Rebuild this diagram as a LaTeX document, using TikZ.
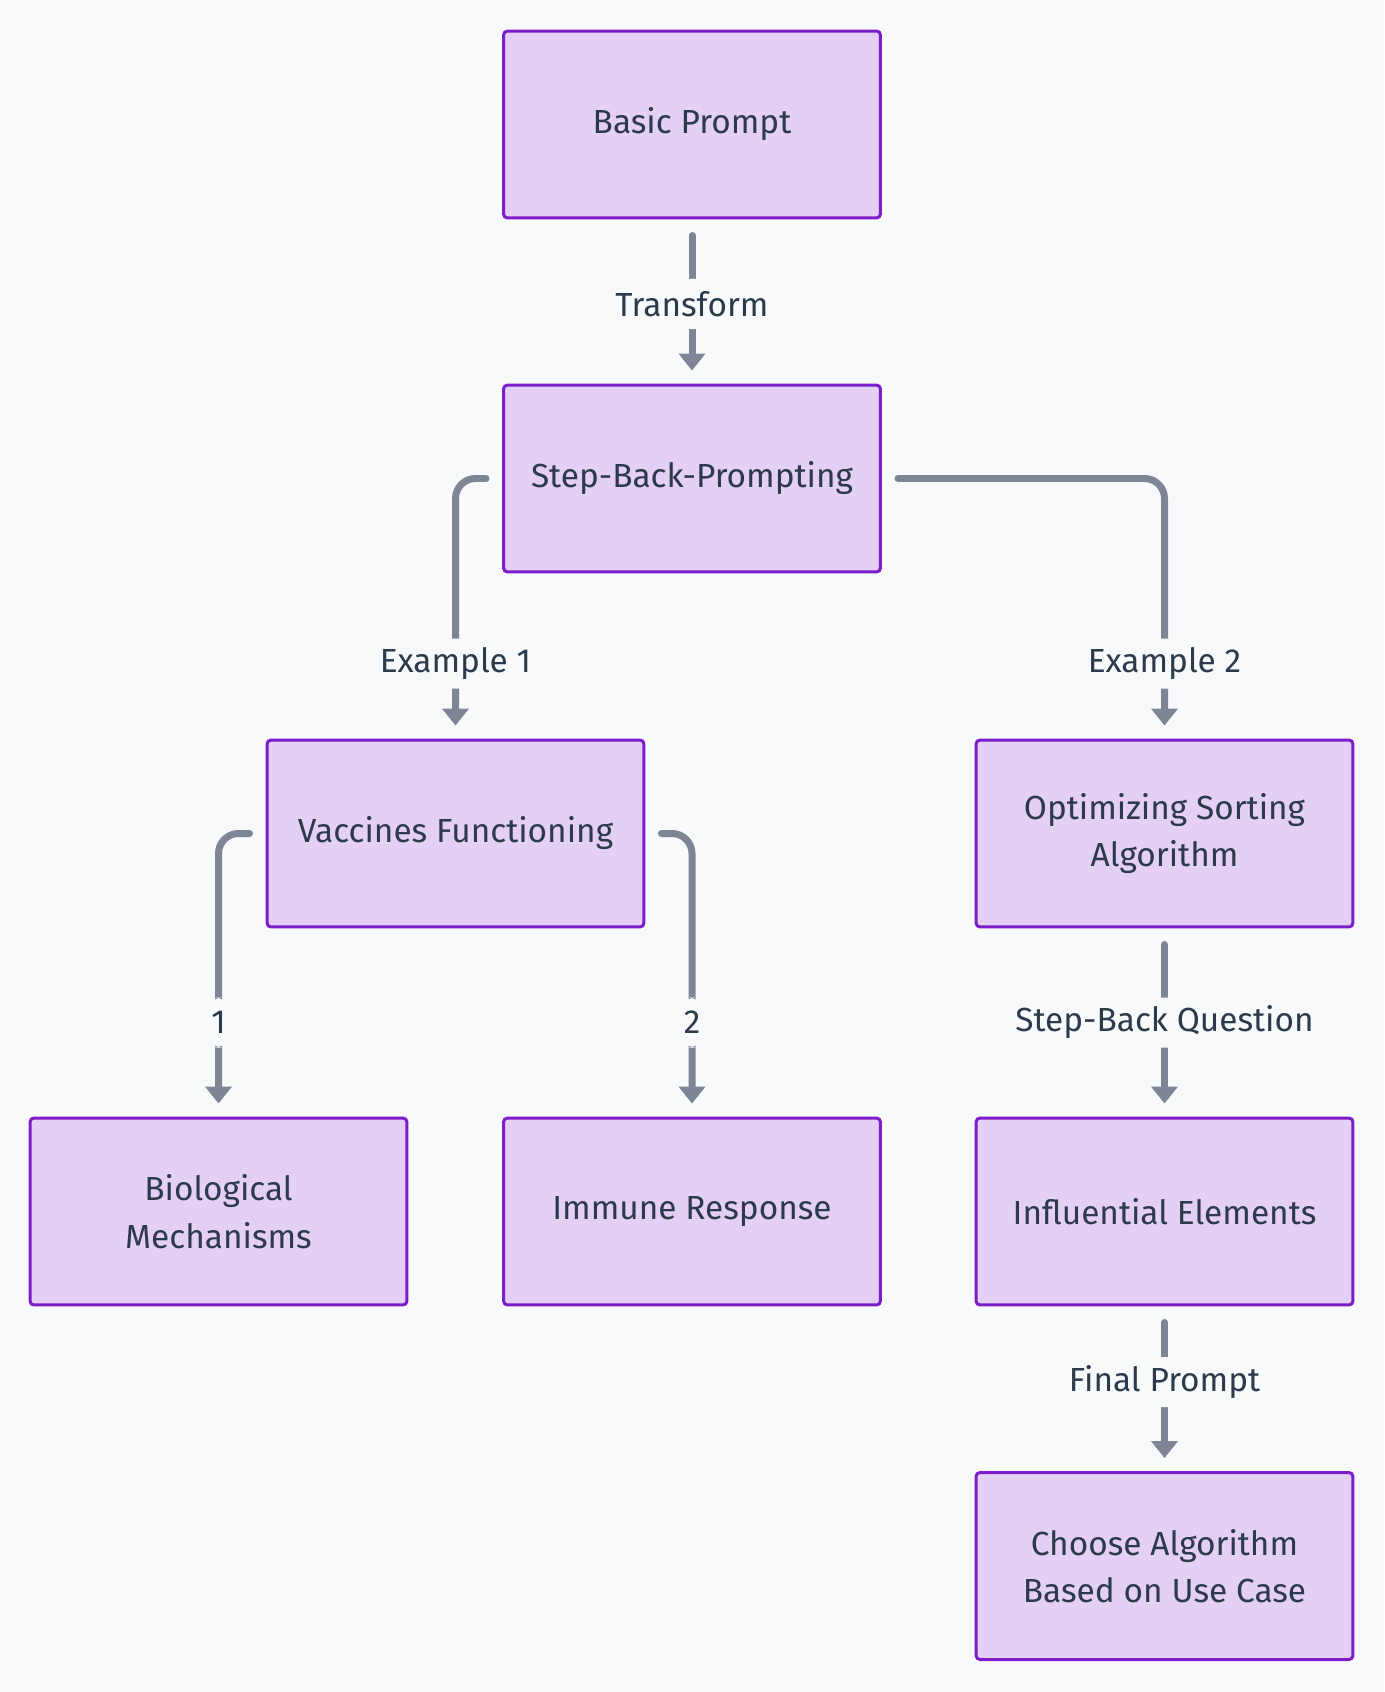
\documentclass[tikz,border=0pt]{standalone}
\usepackage{fontspec}
\setmainfont{Fira Sans}
\usepackage{xcolor}
\usetikzlibrary{arrows.meta}

\definecolor{canvas}{HTML}{F8F9FB}
\definecolor{boxfill}{HTML}{E4D0F4}
\definecolor{boxline}{HTML}{7C1DC9}
\definecolor{linkgrey}{HTML}{7E8696}
\definecolor{ink}{HTML}{2C3A4B}

\begin{document}
\begin{tikzpicture}[x=0.02cm,y=-0.02cm,
		box/.style={draw=boxline,fill=boxfill,line width=0.06cm,rounded corners=0.08cm,
			minimum width=7.54cm,minimum height=3.74cm,align=center,text=ink,
			font=\fontsize{19}{27}\selectfont},
		link/.style={draw=linkgrey,line width=0.14cm,line cap=round,rounded corners=0.4cm,
			shorten <=0.32cm,shorten >=0.26cm,-{Triangle[width=0.52cm,length=0.34cm]}},
		lbl/.style={fill=canvas,text=ink,inner xsep=0.1cm,minimum height=1cm,
			minimum width=0.6cm,font=\fontsize{19}{27}\selectfont}]
		\useasboundingbox[fill=canvas] (0,0) rectangle (1384,1692);
		%
		\node[box] (basic) at (692,124.5) {Basic Prompt};
		\node[box] (sbp) at (692,478.5) {Step-Back-Prompting};
		\node[box] (vac) at (455.5,833.5) {Vaccines Functioning};
		\node[box] (opt) at (1164.5,833.5) {Optimizing Sorting\\Algorithm};
		\node[box] (bio) at (218.5,1211.5) {Biological\\Mechanisms};
		\node[box] (imm) at (692,1211.5) {Immune Response};
		\node[box] (infl) at (1164.5,1211.5) {Influential Elements};
		\node[box] (choose) at (1164.5,1566) {Choose Algorithm\\Based on Use Case};
		%
		\draw[link] (basic) -- node[lbl,pos=0.515] {Transform} (sbp);
		\draw[link] (sbp.west) -| node[lbl,pos=0.856] {Example 1} (vac.north);
		\draw[link] (sbp.east) -| node[lbl,pos=0.856] {Example 2} (opt.north);
		\draw[link] (vac.west) -| node[lbl,pos=0.834] {1} (bio.north);
		\draw[link] (vac.east) -| node[lbl,pos=0.834] {2} (imm.north);
		\draw[link] (opt) -- node[lbl] {Step-Back Question} (infl);
		\draw[link] (infl) -- node[lbl,pos=0.46] {Final Prompt} (choose);
	\end{tikzpicture}
\end{document}
